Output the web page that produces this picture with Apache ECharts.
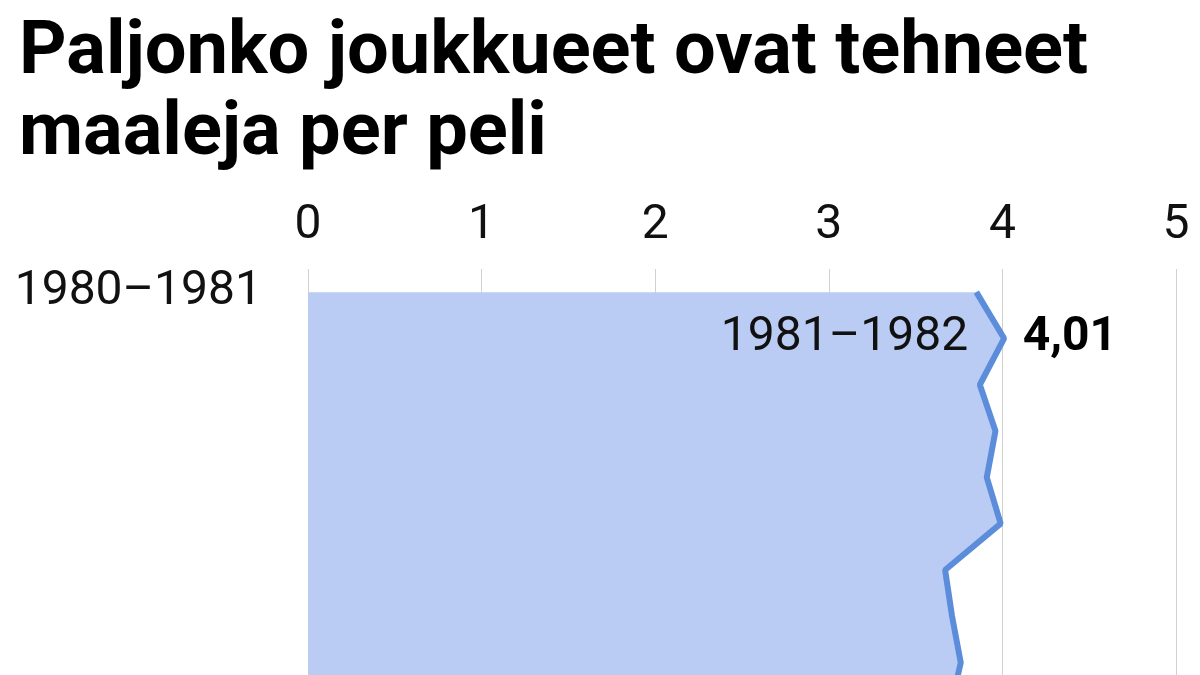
<!DOCTYPE html>
<html>
<head>
    <meta charset="utf-8">
    <title>Maaleja per peli</title>
    <script src="https://cdn.jsdelivr.net/npm/echarts@6/dist/echarts.min.js"></script>
    <style>
        html, body { margin: 0; padding: 0; background: #fff; height: 675px; overflow: hidden; }
        #main { width: 1200px; height: 760px; }
    </style>
</head>
<body>
<div id="main"></div>
<script type="text/javascript">
    // kaudet ja maaleja per peli (luettu kuvasta)
    var seasons = ['1980–1981', '1981–1982', '1982–1983', '1983–1984', '1984–1985',
        '1985–1986', '1986–1987', '1987–1988', '1988–1989', '1989–1990'];
    var goalsPerGame = [3.85, 4.01, 3.87, 3.96, 3.91, 3.99, 3.67, 3.71, 3.76, 3.70];
    var valueTicks = [0, 1, 2, 3, 4, 5];

    // korostettu kausi = suurin arvo
    var maxIndex = goalsPerGame.indexOf(Math.max.apply(null, goalsPerGame));

    function fmt(v) {
        return v.toFixed(2).replace('.', ',');
    }

    var myChart = echarts.init(document.getElementById('main'));

    var option = {
        backgroundColor: '#fff',
        animation: false,
        title: {
            text: 'Paljonko joukkueet ovat tehneet\nmaaleja per peli',
            left: 14,
            top: 9,
            textStyle: {
                fontFamily: 'Roboto',
                fontWeight: 'bold',
                fontSize: 74,
                lineHeight: 81,
                color: '#000'
            }
        },
        grid: {
            left: 308,
            right: 24,
            top: 269,
            bottom: 28
        },
        xAxis: {
            type: 'value',
            position: 'top',
            min: valueTicks[0],
            max: valueTicks[valueTicks.length - 1],
            interval: 1,
            axisLine: { show: false },
            axisTick: { show: false },
            axisLabel: {
                margin: 19,
                fontFamily: 'Roboto',
                fontSize: 48,
                color: '#111'
            },
            splitLine: {
                lineStyle: { color: '#d0d0d0', width: 1 }
            }
        },
        yAxis: {
            type: 'category',
            inverse: true,
            boundaryGap: true,
            data: seasons,
            axisLine: { show: false },
            axisTick: { show: false },
            splitLine: { show: false },
            axisLabel: {
                interval: 0,
                margin: 46,
                fontFamily: 'Roboto',
                fontSize: 48,
                color: '#111',
                padding: [0, 0, 14, 0],
                formatter: function (v, i) {
                    return i === 0 ? v : '';
                }
            }
        },
        series: [{
            type: 'line',
            data: goalsPerGame.map(function (v, i) {
                if (i !== maxIndex) return v;
                return {
                    value: v,
                    label: {
                        show: true,
                        position: 'right',
                        distance: 18,
                        formatter: function (p) { return fmt(p.value); },
                        fontFamily: 'Roboto',
                        fontWeight: 'bold',
                        fontSize: 48,
                        color: '#000'
                    }
                };
            }),
            showSymbol: true,
            symbol: 'circle',
            symbolSize: 1,
            itemStyle: { color: '#5b8ddb' },
            lineStyle: { color: '#5b8ddb', width: 6 },
            areaStyle: { color: '#bacbf4', opacity: 1 },
            z: 2
        }, {
            // kauden nimi korostetun pisteen vasemmalla puolella
            type: 'scatter',
            symbolSize: 0,
            itemStyle: { opacity: 1 },
            data: goalsPerGame.map(function (v, i) {
                return i === maxIndex ? v : null;
            }),
            label: {
                show: true,
                position: 'left',
                distance: 36,
                formatter: function (p) { return seasons[p.dataIndex]; },
                fontFamily: 'Roboto',
                fontSize: 48,
                color: '#111'
            },
            z: 3
        }]
    };

    myChart.setOption(option);
</script>
</body>
</html>
